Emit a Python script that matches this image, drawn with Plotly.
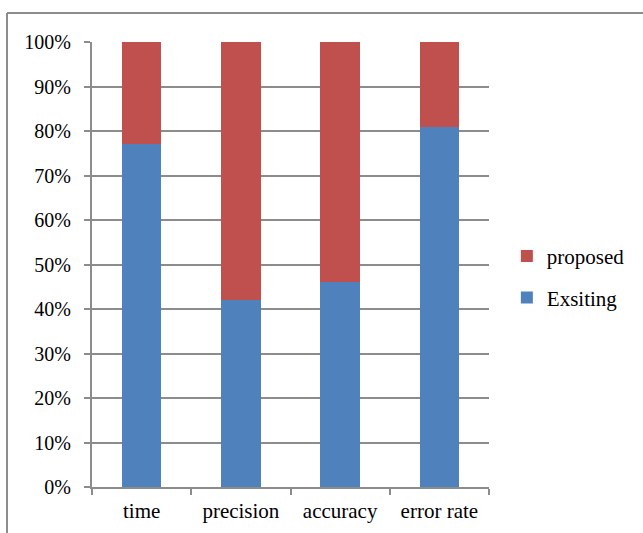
import plotly.graph_objects as go

# Metrics compared between the existing and proposed methods
categories = ["time", "precision", "accuracy", "error rate"]
existing = [77, 42, 46, 81]
proposed = [23, 58, 54, 19]

BLUE = "#4F81BD"
RED = "#C0504D"
GRID = "#8c8c8c"
FAMILY = "Liberation Serif"
FONT = dict(family=FAMILY, size=21, color="#000000")
YFONT = dict(family=FAMILY, size=20, color="#000000")

fig = go.Figure()
fig.add_trace(go.Bar(
    x=categories, y=existing, name="Exsiting",
    marker=dict(color=BLUE, line=dict(width=0)),
    legendgroup="a", legendrank=2,
))
fig.add_trace(go.Bar(
    x=categories, y=proposed, name="proposed",
    marker=dict(color=RED, line=dict(width=0)),
    legendgroup="b", legendrank=1,
))

W, H = 643, 533
L, R, T, B = 92, 154, 42, 46
pw, ph = W - L - R, H - T - B

# outer chart frame (left and top edges)
fx = (7 - L) / pw
fy = (H - B - 13) / ph
frame = dict(type="line", xref="paper", yref="paper", line=dict(color=GRID, width=2))

fig.update_layout(
    width=W, height=H,
    margin=dict(l=L, r=R, t=T, b=B, pad=0, autoexpand=False),
    paper_bgcolor="white", plot_bgcolor="white",
    barmode="stack", barnorm="percent", bargap=0.6,
    font=FONT,
    showlegend=True,
    legend=dict(
        traceorder="grouped", tracegroupgap=11,
        x=1.045, xanchor="left", xref="paper",
        y=0.472, yanchor="middle",
        font=FONT, bgcolor="rgba(0,0,0,0)",
    ),
    xaxis=dict(
        type="category", showgrid=False, automargin=False,
        showline=True, linecolor=GRID, linewidth=2,
        ticks="outside", tickson="boundaries", ticklen=6, tickcolor=GRID, tickwidth=2,
        ticklabelstandoff=4, tickfont=FONT,
    ),
    yaxis=dict(
        range=[0, 100], dtick=10, ticksuffix="%", automargin=False,
        showgrid=True, gridcolor=GRID, gridwidth=2,
        showline=True, linecolor=GRID, linewidth=2,
        ticks="outside", ticklen=6, tickcolor=GRID, tickwidth=2,
        ticklabelstandoff=9, tickfont=YFONT, zeroline=False,
    ),
    shapes=[
        dict(frame, x0=fx, x1=fx, y0=-0.3, y1=fy),
        dict(frame, x0=fx, x1=1.6, y0=fy, y1=fy),
    ],
)

fig.write_html("out.html")
